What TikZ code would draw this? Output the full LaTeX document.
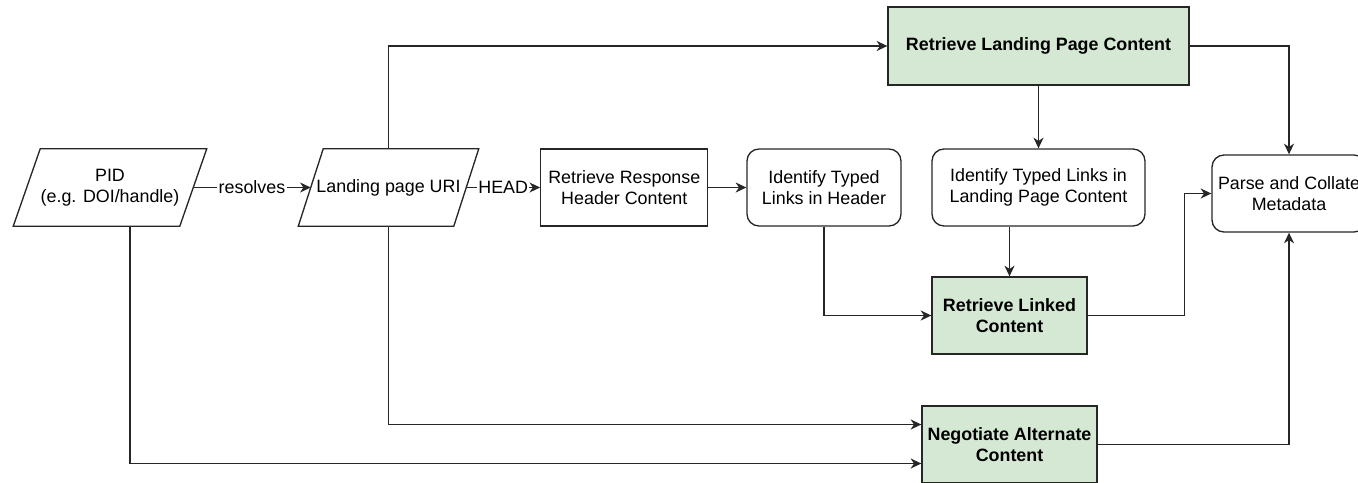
\documentclass[tikz,border=0pt]{standalone}
\usepackage{fontspec}
\setmainfont{Liberation Sans}
\usetikzlibrary{arrows.meta,calc}
\definecolor{boxgreen}{HTML}{D5E8D4}
\begin{document}
\begin{tikzpicture}[x=0.75pt,y=-0.75pt,
  every node/.style={font=\fontsize{13.4}{15.5}\selectfont, align=center, inner sep=0pt},
  shp/.style={line width=1pt, draw=black!85},
  box/.style={shp, minimum height=57.75pt},
  rbox/.style={box, rounded corners=9pt},
  gbox/.style={box, fill=boxgreen, font=\fontsize{13.4}{15.5}\selectfont\bfseries},
  para/.style={minimum height=57.75pt},
  arr/.style={line width=1pt, draw=black!85, -{Stealth[length=8pt,width=7.5pt,inset=2.5pt]}},
  lbl/.style={fill=white, inner sep=1pt}]
\useasboundingbox (0,0) rectangle (1358,482);
\clip (0,0) rectangle (1358,482);

% nodes
\node[para, minimum width=124.5pt] (pid) at (110,187.5) {PID\\(e.g. DOI/handle)};
\node[para, minimum width=116.25pt] (land) at (388.5,187.5) {Landing page URI};
\node[box, minimum width=125.25pt] (rrh) at (624.3,187.5) {Retrieve Response\\Header Content};
\node[rbox, minimum width=115.5pt] (idh) at (824,187.5) {Identify Typed\\Links in Header};
\node[gbox, minimum width=225.75pt, minimum height=58.5pt] (rlpc) at (1038.5,46) {Retrieve Landing Page Content};
\node[rbox, minimum width=159.75pt] (idlpc) at (1038.5,187.5) {Identify Typed Links in\\Landing Page Content};
\node[gbox, minimum width=116.25pt] (linked) at (1009.5,315.5) {Retrieve Linked\\Content};
\node[gbox, minimum width=131.25pt] (neg) at (1009.5,444.5) {Negotiate Alternate\\Content};
\node[rbox, minimum width=115.5pt] (parse) at (1289,193.5) {Parse and Collate\\Metadata};

% parallelogram outlines
\draw[shp] ($(pid.north west)+(13.5,0)$) -- ($(pid.north east)+(13.5,0)$)
  -- ($(pid.south east)+(-13.5,0)$) -- ($(pid.south west)+(-13.5,0)$) -- cycle;
\draw[shp] ($(land.north west)+(12.5,0)$) -- ($(land.north east)+(12.5,0)$)
  -- ($(land.south east)+(-12.5,0)$) -- ($(land.south west)+(-12.5,0)$) -- cycle;

% connectors
\draw[arr] (pid.east) -- node[lbl] {resolves} (land.west);
\draw[arr] (land.east) -- node[lbl] {HEAD} (rrh.west);
\draw[arr] (rrh.east) -- (idh.west);
\draw[arr] (land.north) |- (rlpc.west);
\draw[arr] (rlpc.south) -- (idlpc.north);
\draw[arr] (idlpc.south -| linked.north) -- (linked.north);
\draw[arr] (idh.south) |- (linked.west);
\draw[arr] (linked.east) -- ++(97,0) |- (parse.west);
\draw[arr] (rlpc.east) -| (parse.north);
\draw[arr] (neg.east) -| (parse.south);
\draw[arr] (land.south) |- ($(neg.west)+(0,-20)$);
\draw[arr] (pid.south) ++(20,0) |- ($(neg.west)+(0,19)$);
\end{tikzpicture}
\end{document}
